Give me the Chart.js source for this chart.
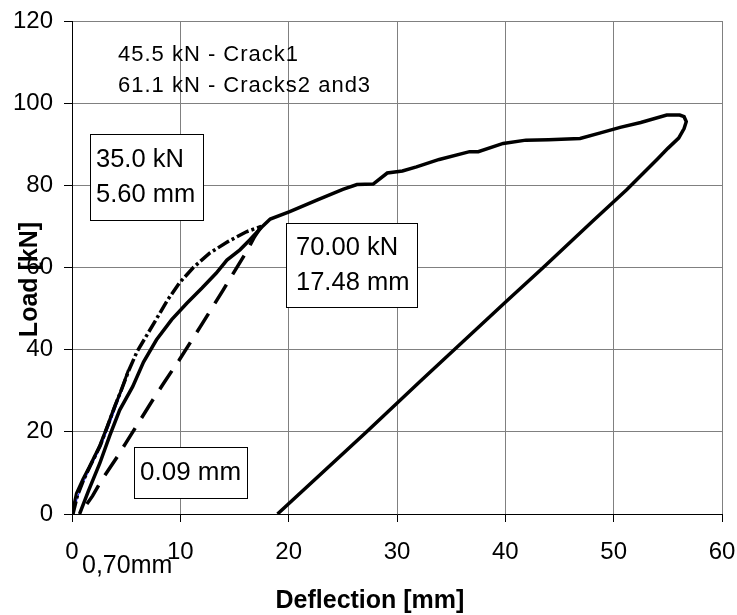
<!DOCTYPE html>
<html>
<head>
<meta charset="utf-8">
<script src="https://cdn.jsdelivr.net/npm/chart.js@4.4.1/dist/chart.umd.min.js"></script>
<style>
html,body{margin:0;padding:0;background:#fff;}
canvas{display:block;}
</style>
</head>
<body>
<canvas id="c" width="737" height="615"></canvas>
<script>
const FONT = "'Liberation Sans', Arial, Helvetica, sans-serif";

// ---- axis ranges / ticks ----
const xTicks = [0, 10, 20, 30, 40, 50, 60];
const yTicks = [0, 20, 40, 60, 80, 100, 120];

// ---- series (x = deflection [mm], y = load [kN]) ----
// cycle 1 loading to 35 kN (solid)
const cycle1LoadX = [0, 0.4, 1.0, 1.6, 2.5, 3.2, 3.9, 4.6, 5.2];
const cycle1LoadY = [0, 5, 8.5, 11.5, 16.3, 21, 26, 30.5, 35];
// cycle 1 unloading to 0.09 mm (thin blue)
const cycle1UnloadX = [5.2, 4.75, 4.05, 3.35, 2.65, 1.75, 1.1, 0.5, 0.09];
const cycle1UnloadY = [35, 31, 26, 21, 16.3, 11.5, 8, 4, 0];
// cycle 2 loading to 70 kN (dash-dot)
const cycle2LoadX = [0.09, 0.5, 1.1, 1.7, 2.6, 3.3, 4.0, 4.6, 5.25, 6.0, 6.9, 7.8, 8.8, 9.9, 11.2, 12.7, 14.4, 16.1, 17.48];
const cycle2LoadY = [0, 4.5, 8.5, 11.8, 16.6, 21.5, 26.5, 30.5, 35, 39.5, 43.5, 47.5, 52, 56.2, 60, 63.5, 66.3, 68.7, 70];
// cycle 2 unloading to 0.70 mm (dashed)
const cycle2UnloadX = [17.48, 16.85, 16.15, 15.45, 13.95, 11.85, 9.9, 8.55, 7.25, 6.4, 4.95, 4.15, 2.75, 1.9, 0.72];
const cycle2UnloadY = [70, 67.5, 64, 61, 54.5, 45.6, 37.5, 32.2, 26.9, 23.3, 17.2, 13.8, 8.3, 4.4, 0];
// final loading to failure and unloading (solid)
const cycle3X = [0.7, 1.5, 2.56, 3.5, 4.4, 5.6, 6.6, 7.8, 9.2, 10.6, 12.0, 13.3, 14.3, 15.5, 16.4, 17.5, 18.3, 20.1, 22.6, 25.0, 26.3, 27.8, 29.1, 30.5, 31.8, 33.9, 36.7, 37.5, 39.8, 41.9, 44.0, 46.9, 48.7, 50.6, 52.5, 54.9, 56.1, 56.5, 56.7, 56.5, 56.0, 55.0, 54.0, 51.2, 48.1, 43.5, 40.1, 32.1, 27.2, 18.97];
const cycle3Y = [0, 5.5, 12.3, 19.2, 25.3, 31, 37, 42.4, 47.3, 51.3, 55, 58.6, 61.8, 64.3, 66.7, 69.8, 71.8, 73.6, 76.4, 79, 80.2, 80.3, 83, 83.5, 84.5, 86.3, 88.2, 88.2, 90.2, 91.0, 91.1, 91.4, 92.7, 94.1, 95.3, 97.1, 97.1, 96.7, 95.5, 93.8, 91.5, 89, 86.3, 78.9, 71.4, 60, 51.8, 32.2, 20, 0];

// ---- texts ----
const xTitle = 'Deflection [mm]';
const yTitle = 'Load [kN]';
const crackNotes = ['45.5 kN - Crack1', '61.1 kN - Cracks2 and3'];
const box35 = ['35.0 kN', '5.60 mm'];
const box70 = ['70.00 kN', '17.48 mm'];
const box009 = ['0.09 mm'];
const residualNote = '0,70mm';

function pts(xs, ys) { return xs.map((x, i) => ({x: x, y: ys[i]})); }

const whiteBg = {
  id: 'whiteBg',
  beforeDraw(chart) {
    const ctx = chart.ctx;
    ctx.save();
    ctx.fillStyle = '#fff';
    ctx.fillRect(0, 0, chart.width, chart.height);
    ctx.restore();
  }
};

const notes = {
  id: 'notes',
  afterDraw(chart) {
    const ctx = chart.ctx;
    ctx.save();
    ctx.textAlign = 'left';
    ctx.textBaseline = 'alphabetic';
    const boxes = [
      {lines: box35, x: 90, y: 134, w: 113, h: 86, tx: 96, base: [167, 202], size: 25.5},
      {lines: box70, x: 286, y: 223, w: 131, h: 84, tx: 296, base: [255, 289.5], size: 25.5},
      {lines: box009, x: 134, y: 447, w: 113, h: 51, tx: 140, base: [479.5], size: 26}
    ];
    boxes.forEach(b => {
      ctx.fillStyle = '#fff';
      ctx.fillRect(b.x, b.y, b.w, b.h);
      ctx.strokeStyle = '#000';
      ctx.lineWidth = 1;
      ctx.strokeRect(b.x + 0.5, b.y + 0.5, b.w, b.h);
      ctx.fillStyle = '#000';
      ctx.font = b.size + 'px ' + FONT;
      b.lines.forEach((t, i) => ctx.fillText(t, b.tx, b.base[i]));
    });
    // crack notes
    ctx.fillStyle = '#000';
    ctx.font = '22px ' + FONT;
    try { ctx.letterSpacing = '1px'; } catch (e) {}
    ctx.fillText(crackNotes[0], 118, 61);
    ctx.fillText(crackNotes[1], 118, 92);
    try { ctx.letterSpacing = '0px'; } catch (e) {}
    // residual note under the axis
    ctx.font = '25px ' + FONT;
    ctx.fillText(residualNote, 82, 573);
    // axis titles
    ctx.font = 'bold 25px ' + FONT;
    ctx.fillText(xTitle, 275.5, 608);
    ctx.translate(36.5, 279.5);
    ctx.rotate(-Math.PI / 2);
    ctx.textAlign = 'center';
    ctx.fillText(yTitle, 0, 0);
    ctx.restore();
  }
};

const line = (data, color, width, dash) => ({
  data: data,
  showLine: true,
  borderColor: color,
  backgroundColor: color,
  borderWidth: width,
  borderDash: dash || [],
  pointRadius: 0,
  pointHoverRadius: 0,
  tension: 0,
  fill: false
});

new Chart(document.getElementById('c'), {
  type: 'scatter',
  data: {
    datasets: [
      line(pts(cycle3X, cycle3Y), '#000', 3.5),
      line(pts(cycle2UnloadX, cycle2UnloadY), '#000', 3.5, [22, 12]),
      line(pts(cycle2LoadX, cycle2LoadY), '#000', 3.5, [13, 3, 3, 3]),
      line(pts(cycle1LoadX, cycle1LoadY), '#000', 3),
      line(pts(cycle1UnloadX, cycle1UnloadY), '#0000ff', 1)
    ]
  },
  options: {
    responsive: false,
    animation: false,
    events: [],
    layout: {padding: {top: 21, right: 15, left: 0, bottom: 0}},
    plugins: {legend: {display: false}, tooltip: {enabled: false}, title: {display: false}},
    scales: {
      x: {
        type: 'linear', min: xTicks[0], max: xTicks[xTicks.length - 1],
        afterBuildTicks: s => { s.ticks = xTicks.map(v => ({value: v})); },
        afterFit: s => { s.height = 101; s.paddingRight = 0; s.paddingLeft = 0; },
        ticks: {color: '#000', font: {family: FONT, size: 24}, padding: 16, maxRotation: 0, autoSkip: false},
        grid: {color: '#808080', lineWidth: 1, tickColor: '#000', tickLength: 8, drawTicks: true},
        border: {color: '#000', width: 1}
      },
      y: {
        type: 'linear', min: yTicks[0], max: yTicks[yTicks.length - 1],
        afterBuildTicks: s => { s.ticks = yTicks.map(v => ({value: v})); },
        afterFit: s => { s.width = 72; s.paddingTop = 0; s.paddingBottom = 0; },
        ticks: {color: '#000', font: {family: FONT, size: 24}, padding: 11, autoSkip: false},
        grid: {color: '#808080', lineWidth: 1, tickColor: '#000', tickLength: 8, drawTicks: true},
        border: {color: '#000', width: 1}
      }
    }
  },
  plugins: [whiteBg, notes]
});
</script>
</body>
</html>
